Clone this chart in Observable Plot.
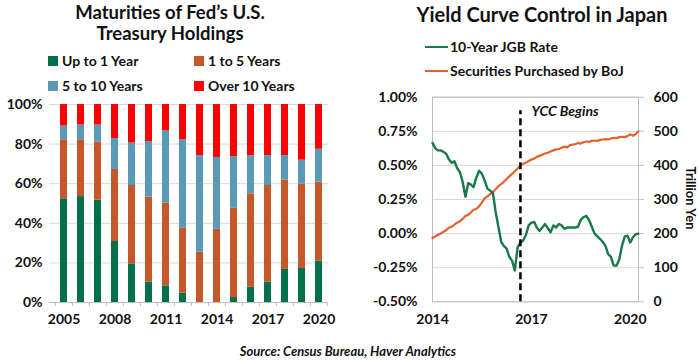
<!DOCTYPE html>
<html><head><meta charset="utf-8">
<script src="https://cdn.jsdelivr.net/npm/d3@7"></script>
<script src="https://cdn.jsdelivr.net/npm/@observablehq/plot@0.6"></script>
<style>
html,body{margin:0;padding:0;background:#fff;}
#root{position:relative;width:700px;height:362px;overflow:hidden;font-family:Lato,sans-serif;color:#111;}
#root > svg, #root > figure{position:absolute;margin:0;}
</style></head><body><div id="root"></div>
<script>
// ---------- Left chart data: Fed Treasury holdings by maturity (% share) ----------
const years = [2005,2006,2007,2008,2009,2010,2011,2012,2013,2014,2015,2016,2017,2018,2019,2020];
const upTo1Year   = [52.4,53.5,51.7,30.8,19.5,10.3, 8.4, 4.7, 0.0, 0.0, 2.5, 7.7,10.3,16.7,17.2,20.9];
const oneTo5Years = [29.8,28.7,29.3,36.4,39.6,42.9,41.8,33.0,25.4,37.0,45.1,47.2,48.8,45.1,42.6,39.9];
const fiveTo10Years=[ 6.9, 7.4, 8.6,15.6,21.4,28.1,36.5,44.5,48.8,36.2,26.1,19.2,15.1,12.4,12.1,16.6];
const over10Years = [10.9,10.4,10.4,17.2,19.5,18.7,13.3,17.8,25.8,26.8,26.3,25.9,25.8,25.8,28.1,22.6];
const seriesNames = ["Up to 1 Year","1 to 5 Years","5 to 10 Years","Over 10 Years"];
const seriesColors = ["#00704a","#c5582a","#5a9ab6","#ff0000"];
const pctTicks = [0,20,40,60,80,100];
const yearTicks = [2005,2008,2011,2014,2017,2020];

// ---------- Right chart data: monthly, starting Jan 2014 ----------
const jgbStart = "2014-01-01";
const jgbRate = [0.665,0.625,0.61,0.61,0.60,0.585,0.545,0.52,0.53,0.48,0.45,0.38,
                 0.27,0.37,0.36,0.34,0.41,0.46,0.44,0.39,0.33,0.315,0.30,0.16,
                 0.05,-0.06,-0.09,-0.11,-0.17,-0.20,-0.27,-0.10,-0.065,-0.05,-0.01,0.06,
                 0.08,0.085,0.045,0.02,0.045,0.07,0.04,0.01,0.06,0.045,0.07,0.06,
                 0.035,0.045,0.045,0.045,0.045,0.05,0.10,0.12,0.13,0.10,0.05,0.00,
                 -0.02,-0.04,-0.06,-0.09,-0.15,-0.17,-0.235,-0.235,-0.19,-0.09,-0.02,-0.015,
                 -0.065,-0.025,-0.005,0.00];
const bojHoldings = [187,192,196,200,205,210,217,220,226,232,236,243,
                     252,255,262,270,272,280,291,303,309,316,322,330,
                     339,345,352,360,368,375,383,391,400,405,408,413,
                     417,420,425,428,431,435,437,441,444,447,448,452,
                     455,453,459,461,462,466,464,468,470,469,472,473,
                     472,475,476,477,476,479,481,480,483,484,483,486,
                     491,487,492,500];
const rateTicks = [-0.5,-0.25,0,0.25,0.5,0.75,1.0];
const yenTicks = [0,100,200,300,400,500,600];
const dateTicks = ["2014-01-01","2017-01-01","2020-01-01"];
const dateDomain = ["2014-01-01","2020-04-01"];
const yccDate = "2016-09-01";
const yccLabel = "YCC Begins";
const lineNames = ["10-Year JGB Rate","Securities Purchased by BoJ"];
const lineColors = ["#17794a","#e0622c"];

const root = document.getElementById("root");
const FONT = "Lato, sans-serif";

// ---------- Left chart ----------
const barData = [];
const seriesArrays = [upTo1Year, oneTo5Years, fiveTo10Years, over10Years];
years.forEach((yr, i) => seriesArrays.forEach((arr, k) =>
  barData.push({year: yr, series: seriesNames[k], value: arr[i]})));

const leftW = 350, leftML = 49, leftMR = 22, leftInset = 5;
const step = (leftW - leftML - leftMR - leftInset) / years.length;

const left = Plot.plot({
  width: leftW, height: 240, marginTop: 10, marginBottom: 32, marginLeft: leftML, marginRight: leftMR,
  style: {fontFamily: FONT, fontSize: "14px", fontWeight: "bold", color: "#111", background: "transparent"},
  x: {type: "band", domain: years, paddingInner: 0.59, paddingOuter: 0.295, insetLeft: leftInset, label: null},
  y: {domain: [0, 100], label: null},
  color: {domain: seriesNames, range: seriesColors},
  marks: [
    Plot.ruleY(pctTicks, {stroke: "#d9d9d9", strokeWidth: 1}),
    Plot.barY(barData, {x: "year", y: "value", fill: "series"}),
    Plot.ruleY([0], {stroke: "#bfbfbf"}),
    Plot.axisX({ticks: years, tickSize: 4, tickFormat: () => "", dx: -step / 2, stroke: "#bfbfbf"}),
    Plot.axisX({ticks: [years[years.length - 1]], tickSize: 4, tickFormat: () => "", dx: step / 2, stroke: "#bfbfbf"}),
    Plot.axisY({ticks: pctTicks, tickSize: 0, tickPadding: 7, tickFormat: d => d + "%", fill: "#111"}),
    Plot.axisX({ticks: yearTicks, tickSize: 0, tickPadding: 12, tickFormat: d => String(d), fill: "#111"})
  ]
});
left.style.left = "0px"; left.style.top = "94px";
root.appendChild(left);

// ---------- Right chart ----------
const months = d3.utcMonth.range(new Date(jgbStart), d3.utcMonth.offset(new Date(jgbStart), jgbRate.length));
const rateData = months.map((d, i) => ({date: d, rate: jgbRate[i], yen: bojHoldings[i]}));
const yen2rate = v => -0.5 + v / 400;   // right axis 0..600 maps onto left axis -0.5..1.0
const rate2yen = r => Math.round((r + 0.5) * 400);

const right = Plot.plot({
  width: 350, height: 248, marginTop: 10.7, marginBottom: 32.7, marginLeft: 82, marginRight: 62,
  style: {fontFamily: FONT, fontSize: "14px", fontWeight: "bold", color: "#111", background: "transparent"},
  x: {type: "utc", domain: dateDomain.map(d => new Date(d)), label: null},
  y: {domain: [-0.5, 1.0], label: null},
  marks: [
    Plot.ruleY(rateTicks, {stroke: "#d9d9d9", strokeWidth: 1}),
    Plot.frame({stroke: "#bfbfbf"}),
    Plot.lineY(rateData, {x: "date", y: d => yen2rate(d.yen), stroke: lineColors[1], strokeWidth: 2.2}),
    Plot.lineY(rateData, {x: "date", y: "rate", stroke: lineColors[0], strokeWidth: 2.4}),
    Plot.ruleX([yccDate], {x: d => new Date(d), y1: -0.5, y2: 0.9, stroke: "#000", strokeWidth: 2.5, strokeDasharray: "7,4"}),
    Plot.text([yccLabel], {x: () => new Date(yccDate), y: 0.9, text: d => d, dx: 11, dy: 1, textAnchor: "start",
      fontStyle: "italic", fontWeight: "bold", fontSize: 14, fill: "#111"}),
    Plot.axisY({ticks: rateTicks, tickSize: 0, tickPadding: 15, tickFormat: d => d.toFixed(2) + "%", fill: "#111", label: null}),
    Plot.axisY({anchor: "right", ticks: yenTicks.map(yen2rate), tickSize: 5, tickPadding: 10,
      tickFormat: rate2yen, stroke: "#bfbfbf", fill: "#111", label: null}),
    Plot.axisX({ticks: dateTicks.map(d => new Date(d)), tickSize: 0, tickPadding: 12, tickFormat: d3.utcFormat("%Y"), fill: "#111"})
  ]
});
right.style.left = "350px"; right.style.top = "86px";
root.appendChild(right);

// ---------- Titles, legends, caption ----------
const ov = d3.select(root).append("svg")
  .attr("width", 700).attr("height", 362)
  .style("left", "0px").style("top", "0px").style("pointer-events", "none")
  .style("font-family", FONT).style("font-weight", "bold").attr("fill", "#111");

ov.append("text").attr("x", 170).attr("y", 18.5).attr("text-anchor", "middle").attr("font-size", 18.5)
  .text("Maturities of Fed’s U.S.");
ov.append("text").attr("x", 170).attr("y", 40).attr("text-anchor", "middle").attr("font-size", 18.5)
  .text("Treasury Holdings");
ov.append("text").attr("x", 542).attr("y", 22).attr("text-anchor", "middle").attr("font-size", 20)
  .text("Yield Curve Control in Japan");

const legPos = [[48, 61], [194, 61], [48, 86], [194, 86]];
seriesNames.forEach((name, k) => {
  const [x, y] = legPos[k];
  ov.append("rect").attr("x", x).attr("y", y - 5).attr("width", 10).attr("height", 10).attr("fill", seriesColors[k]);
  ov.append("text").attr("x", x + 14).attr("y", y).attr("dy", "0.36em").attr("font-size", 14).text(name);
});

lineNames.forEach((name, k) => {
  const y = 47 + k * 24;
  ov.append("line").attr("x1", 425).attr("x2", 448).attr("y1", y).attr("y2", y)
    .attr("stroke", lineColors[k]).attr("stroke-width", 2);
  ov.append("text").attr("x", 450).attr("y", y).attr("dy", "0.36em").attr("font-size", 14).text(name);
});

ov.append("text").attr("transform", "translate(686,198) rotate(90)").attr("text-anchor", "middle")
  .attr("font-size", 13).text("Trillion Yen");

ov.append("text").attr("x", 348).attr("y", 356).attr("text-anchor", "middle").attr("font-size", 13)
  .attr("font-style", "italic").text("Source: Census Bureau, Haver Analytics");
</script></body></html>
